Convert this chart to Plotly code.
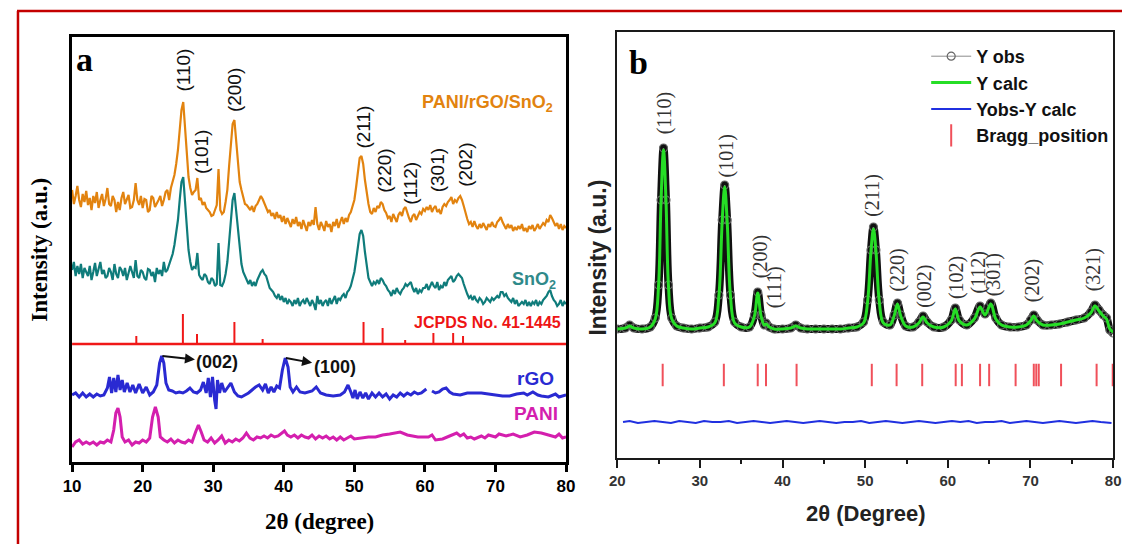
import plotly.graph_objects as go

# ---------------- Panel a data (2theta in degree, intensity in a.u.) ----------------
# diffractometer step of 0.25 degree from 10 to 80 degree
two_theta_a = [10 + 0.25 * i for i in range(281)]

pani_rgo_sno2 = [
    272,258,266,276,262,255,268,260,271,257,264,252,266,259,270,254,262,268,256,263,   # 10-14.75
    274,258,256,266,262,250,260,252,264,270,258,262,267,254,255,262,279,262,257,266,   # 15-19.75
    254,263,262,250,252,266,264,255,258,262,266,256,262,270,272,262,274,280,287,298,   # 20-24.75
    312,332,352,360,337,306,285,274,267,270,272,284,262,264,257,260,254,252,250,246,   # 25-29.75
    247,252,257,293,252,248,250,260,272,296,320,338,342,322,298,280,272,266,258,257,   # 30-34.75
    255,252,256,250,256,258,262,266,263,258,255,250,252,246,249,243,250,244,247,240,   # 35-39.75
    246,238,244,240,235,243,238,245,236,240,233,242,237,231,240,236,242,237,255,238,   # 40-44.75
    232,240,236,231,241,235,238,230,240,236,243,234,240,245,238,244,240,247,250,256,   # 45-49.75
    262,275,292,304,306,298,282,268,258,250,248,254,250,256,254,260,258,252,249,244,   # 50-54.75
    246,240,248,244,240,247,250,246,253,255,248,244,240,246,248,242,246,250,248,253,   # 55-59.75
    251,255,252,257,250,254,256,250,252,248,255,258,256,260,262,265,258,262,260,264,   # 60-64.75
    266,262,256,248,243,238,240,235,241,236,233,238,234,239,236,232,238,235,240,236,   # 65-69.75
    235,240,242,245,240,236,233,238,234,237,231,235,232,236,233,238,231,234,230,236,   # 70-74.75
    233,237,231,234,238,233,236,239,237,242,240,247,244,240,236,239,233,238,232,236,   # 75-79.75
    234]

sno2 = [
    192,200,186,196,188,198,184,194,190,186,196,182,190,199,186,194,200,188,192,184,
    186,194,190,182,198,188,184,195,192,186,194,182,188,196,190,184,202,186,184,192,
    190,184,182,193,192,186,190,180,194,188,192,186,200,190,192,198,204,208,217,228,
    242,262,280,285,262,230,212,200,192,195,194,209,187,184,182,188,186,180,178,184,
    182,176,178,219,177,176,180,188,200,220,245,262,269,250,228,210,198,190,186,182,
    178,182,176,180,176,182,186,190,192,188,186,180,174,172,170,166,164,168,162,166,
    160,164,158,162,160,156,162,158,164,156,160,162,158,164,160,156,162,158,152,166,
    158,162,156,160,162,156,164,158,162,166,158,164,162,166,168,164,170,172,176,182,
    190,202,218,228,232,226,210,196,184,180,176,180,178,182,178,184,182,178,176,172,
    170,166,172,168,174,170,168,172,174,178,176,178,180,174,170,174,168,172,170,174,
    174,178,172,176,180,176,174,180,172,176,174,180,176,182,184,186,180,182,186,188,
    186,184,178,172,168,164,166,162,166,162,160,164,162,158,160,164,162,160,164,162,
    164,166,164,170,170,166,168,164,162,160,164,158,162,156,158,160,158,162,156,160,
    156,160,158,162,156,160,158,162,164,166,170,172,166,162,160,156,158,162,156,160,
    158]

jcpds_pos = [19.1, 25.7, 27.7, 33.0, 37.0, 51.3, 54.0, 57.2, 61.2, 64.0, 65.4]
jcpds_top = [126, 148, 128, 140, 123, 140, 134, 122, 129, 129, 126]
jcpds_base = 118

two_theta_rgo = [10,10.5,11,11.5,12,12.5,13,13.5,14,14.5,15,15.3,15.6,15.9,16.2,16.5,16.8,17.1,17.4,17.8,
                 18.2,18.6,19,19.5,20,20.5,21,21.5,22,22.4,22.7,23,23.3,23.7,24.2,24.7,25.2,25.7,26.2,26.7,
                 27.2,27.7,28.2,28.6,29,29.3,29.6,29.9,30.2,30.4,30.6,30.9,31.2,31.6,32,32.5,33,33.5,34,34.5,
                 35,35.5,36,36.5,37,37.4,37.8,38.2,38.6,39,39.4,39.8,40.2,40.6,40.9,41.3,41.8,42.3,43,44,
                 44.6,45.2,46,47,48,48.6,49.1,49.5,49.8,50.1,50.4,50.8,51.2,51.6,52,52.5,53,53.5,54,54.5,
                 55,55.5,56,56.5,57,57.5,58,58.5,59,59.5,60.2,60.6,61,61.5,62,62.5,63,63.5,64,65,
                 66,67,68,69,70,71,72,73,74,74.5,75.3,76,76.5,77.5,78.5,79,80]
rgo = [67,69,65,69,65,68,65,68,66,67,74,85,69,84,70,87,72,82,70,79,
       70,77,69,78,69,75,67,70,77,99,106,99,79,72,71,69,70,69,71,74,
       70,69,72,80,69,84,65,85,62,53,82,69,79,70,74,79,70,66,65,67,
       69,72,75,77,72,78,69,75,70,76,74,92,104,95,75,70,75,70,69,71,
       75,69,67,66,67,70,77,70,64,72,63,70,64,69,63,69,65,69,65,68,
       63,67,65,69,66,69,67,70,68,69,73,None,71,69,70,73,74,70,68,67,
       69,69,69,68,67,66,66,68,69,67,70,67,66,65,68,65,67]

two_theta_pani = [10,10.5,11,11.5,12,12.5,13,13.5,14,14.5,15,15.5,15.9,16.2,16.5,16.8,17.1,17.5,18,18.5,
                  19,19.5,20,20.5,21,21.4,21.8,22.2,22.5,23,23.5,24,24.5,25,25.5,26,26.5,27,27.5,27.9,
                  28.3,28.7,29.2,29.7,30.2,30.7,31.2,31.7,32.2,32.7,33.2,33.7,34.2,34.7,35.2,35.7,36.2,36.7,37.2,37.7,
                  38.2,38.7,39.2,39.7,40.1,40.5,41,41.5,42,42.5,43,43.5,44,44.5,45,45.5,46,46.5,47,47.5,
                  48,48.5,49,49.5,50,51,52,53,54,55,56,56.5,57.5,59,60.5,61,61.5,62.5,63.5,64.5,
                  65,65.5,66,66.5,67,68,68.5,69,70,70.5,71.5,72.5,73.5,74.5,75.5,76.5,77.5,78.5,79,79.5,80]
pani = [15,20,22,18,20,18,20,17,20,19,22,20,32,49,54,45,25,20,22,17,
        20,19,22,20,24,45,55,45,25,22,20,23,19,22,20,19,22,20,30,37,
        30,22,20,24,19,22,26,19,22,20,23,21,24,29,24,22,25,24,26,24,
        27,25,26,29,31,27,25,27,24,27,25,24,27,23,26,24,26,23,25,22,
        25,22,24,26,23,24,25,25,27,28,29,30,27,25,25,27,22,23,26,29,
        26,28,24,25,23,26,24,27,25,28,26,28,25,27,30,29,27,25,28,24,25]

peak_labels_a = ["(110)", "(101)", "(200)", "(211)", "(220)", "(112)", "(301)", "(202)"]
peak_label_x_a = [25.8, 28.4, 33.1, 51.3, 54.3, 58.0, 61.9, 65.8]
peak_label_y_a = [392, 310, 372, 335, 291, 279, 292, 297]

# ---------------- Panel b data ----------------
two_theta_b = [20,21,21.5,22,23,24,24.6,25.0,25.3,25.6,25.9,26.2,26.6,27.2,28,29,30,31,31.8,32.3,
               32.7,33.0,33.3,33.7,34.2,35,36,36.6,37.0,37.4,37.8,38.0,38.4,39,40,41,41.6,42.2,43,44,
               45,46,47,48,49,49.8,50.3,50.7,51.0,51.3,51.7,52.2,53,53.5,53.9,54.3,54.9,55.8,56.5,57.0,
               57.5,58.3,59.5,60.4,60.9,61.4,62.3,63.2,63.9,64.5,65.2,65.8,66.5,67.5,68.5,69.5,70.0,70.4,70.8,71.5,
               72.5,73.5,74.5,75.5,76.5,77.3,77.8,78.3,78.8,79.2,79.6,80]
y_obs = [129,130,133,130,129,131,140,173,258,310,258,173,140,132,130,129,130,131,136,163,
         238,273,238,163,136,131,131,143,166,143,133,135,131,129,129,130,133,130,129,129,
         129,129,129,130,131,136,158,208,231,208,158,136,133,143,155,143,132,131,136,142,
         136,131,131,138,150,138,133,140,152,144,155,140,133,131,131,133,138,143,138,133,
         133,134,136,138,140,146,153,148,143,140,128,125]
y_calc = [129,130,132,130,129,131,139,172,257,308,257,172,139,132,130,129,130,131,135,162,
          237,271,237,162,135,131,131,142,165,142,133,134,131,129,129,130,132,130,129,129,
          129,129,129,130,131,135,157,207,229,207,157,135,133,142,154,142,132,131,135,141,
          135,131,131,137,149,137,133,139,151,143,154,139,133,131,131,133,137,142,137,133,
          133,134,136,138,140,145,152,147,142,139,129,126]

two_theta_res = [20.7,21.5,22.5,23.5,24.5,25.5,26.5,27.5,28.5,29.5,30.5,31.5,32.5,33.5,34.5,35.5,36.5,37.5,38.5,39.5,
                 40.5,41.5,42.5,43.5,44.5,45.5,46.5,47.5,48.5,49.5,50.5,51.5,52.5,53.5,54.5,55.5,56.5,57.5,58.5,59.5,
                 60.5,61.5,62.5,63.5,64.5,65.5,66.5,67.5,68.5,69.5,70.5,71.5,72.5,73.5,74.5,75.5,76.5,77.5,78.5,79.8]
y_res = [36,37,35,36,37,36,35,37,36,35,37,36,36,37,35,36,37,36,35,36,
         37,36,35,36,37,36,35,36,36,37,35,36,37,36,35,36,37,36,35,36,
         37,36,37,35,36,36,37,35,36,37,36,35,36,37,36,35,36,37,36,35]

bragg_pos = [25.5, 32.9, 37.0, 38.0, 41.7, 50.8, 53.8, 56.9, 60.95, 61.7, 63.9, 65.0, 68.2,
             70.4, 70.7, 71.0, 73.7, 78.0, 79.95]
bragg_level = [83] * len(bragg_pos)

peak_labels_b = ["(110)", "(101)", "(200)", "(111)", "(211)", "(220)", "(002)", "(102)", "(112)",
                 "(301)", "(202)", "(321)"]
peak_label_x_b = [25.7, 33.1, 37.3, 39.0, 50.8, 53.8, 57.1, 61.0, 63.6, 65.5, 70.2, 77.6]
peak_label_y_b = [345, 302, 201, 171, 263, 188, 172, 180, 186, 183, 177, 188]

# ---------------- Figure ----------------
# The page body has an 8 px margin, so the figure sits at (8, 8) in the window;
# layout positions below are given in window pixels and converted.
OFF = 8
W, H = 1131 - OFF, 544 - OFF
def px(x):
    return (x - OFF) / W
def py(y):
    return 1 - (y - OFF) / H

SANS = "Arial, Liberation Sans, sans-serif"
SERIF = "Times New Roman, Liberation Serif, serif"

fig = go.Figure()

# Panel a traces
fig.add_trace(go.Scatter(x=two_theta_a, y=pani_rgo_sno2, mode="lines",
                         line=dict(color="#E2830F", width=2.2), showlegend=False,
                         xaxis="x", yaxis="y"))
fig.add_trace(go.Scatter(x=two_theta_a, y=sno2, mode="lines",
                         line=dict(color="#0F7C7B", width=2.2), showlegend=False,
                         xaxis="x", yaxis="y"))
fig.add_trace(go.Scatter(x=[10, 80], y=[jcpds_base, jcpds_base], mode="lines",
                         line=dict(color="#F01818", width=2.5), showlegend=False,
                         xaxis="x", yaxis="y"))
stick_x, stick_y = [], []
for p, t in zip(jcpds_pos, jcpds_top):
    stick_x += [p, p, None]
    stick_y += [jcpds_base, t, None]
fig.add_trace(go.Scatter(x=stick_x, y=stick_y, mode="lines",
                         line=dict(color="#F01818", width=2), showlegend=False,
                         xaxis="x", yaxis="y"))
fig.add_trace(go.Scatter(x=two_theta_rgo, y=rgo, mode="lines",
                         line=dict(color="#2A2AD2", width=3), showlegend=False,
                         xaxis="x", yaxis="y"))
fig.add_trace(go.Scatter(x=two_theta_pani, y=pani, mode="lines",
                         line=dict(color="#D41FAE", width=3), showlegend=False,
                         xaxis="x", yaxis="y"))

# Panel b traces
fig.add_trace(go.Scatter(x=two_theta_b, y=y_obs, mode="lines", line_shape="spline",
                         line=dict(color="#111111", width=8), showlegend=False,
                         xaxis="x2", yaxis="y2", hoverinfo="skip"))
fig.add_trace(go.Scatter(x=two_theta_b, y=y_obs, mode="lines+markers", name="<b>Y obs</b>",
                         legendgroup="g1", line_shape="spline",
                         line=dict(color="#8c8c8c", width=1),
                         marker=dict(symbol="circle-open", size=8, color="#666666",
                                     line=dict(width=1.2)),
                         xaxis="x2", yaxis="y2"))
fig.add_trace(go.Scatter(x=two_theta_b, y=y_calc, mode="lines", name="<b>Y calc</b>",
                         legendgroup="g2", line_shape="spline",
                         line=dict(color="#26DE26", width=3),
                         xaxis="x2", yaxis="y2"))
fig.add_trace(go.Scatter(x=two_theta_res, y=y_res, mode="lines", name="<b>Yobs-Y calc</b>",
                         legendgroup="g3",
                         line=dict(color="#2030E0", width=2),
                         xaxis="x2", yaxis="y2"))
fig.add_trace(go.Scatter(x=bragg_pos, y=bragg_level, mode="markers", name="<b>Bragg_position</b>",
                         legendgroup="g4",
                         marker=dict(symbol="line-ns", size=16, color="#F0505A",
                                     line=dict(color="#F0505A", width=2)),
                         xaxis="x2", yaxis="y2"))

annotations = []
# Panel a peak labels
for t, x, y in zip(peak_labels_a, peak_label_x_a, peak_label_y_a):
    annotations.append(dict(x=x, y=y, xref="x", yref="y", text=t, textangle=-90,
                            showarrow=False, xanchor="center", yanchor="middle",
                            font=dict(family=SANS, size=19, color="#111111")))
# Panel a series labels
annotations += [
    dict(x=px(555), y=py(103), xref="paper", yref="paper", xanchor="right", yanchor="middle",
         text="<b>PANI/rGO/SnO<sub>2</sub></b>", showarrow=False,
         font=dict(family=SANS, size=18, color="#E2830F")),
    dict(x=px(558), y=py(280), xref="paper", yref="paper", xanchor="right", yanchor="middle",
         text="<b>SnO<sub>2</sub></b>", showarrow=False,
         font=dict(family=SANS, size=18, color="#2F8A8A")),
    dict(x=px(563), y=py(322), xref="paper", yref="paper", xanchor="right", yanchor="middle",
         text="<b>JCPDS No. 41-1445</b>", showarrow=False,
         font=dict(family=SANS, size=16, color="#EE1414")),
    dict(x=px(556), y=py(378), xref="paper", yref="paper", xanchor="right", yanchor="middle",
         text="<b>rGO</b>", showarrow=False,
         font=dict(family=SANS, size=19, color="#2A2AD2")),
    dict(x=px(560), y=py(413), xref="paper", yref="paper", xanchor="right", yanchor="middle",
         text="<b>PANI</b>", showarrow=False,
         font=dict(family=SANS, size=19, color="#D41FAE")),
    # reflection labels of rGO with arrows starting at the peaks
    dict(x=22.8, y=106, ax=30.6, ay=100, xref="x", yref="y", axref="x", ayref="y",
         text="<b>(002)</b>", showarrow=True, arrowside="start",
         startarrowhead=2, startarrowsize=1, arrowwidth=2, arrowcolor="#111111",
         font=dict(family=SANS, size=18, color="#111111")),
    dict(x=40.3, y=104, ax=47.2, ay=95, xref="x", yref="y", axref="x", ayref="y",
         text="<b>(100)</b>", showarrow=True, arrowside="start",
         startarrowhead=2, startarrowsize=1, arrowwidth=2, arrowcolor="#111111",
         font=dict(family=SANS, size=18, color="#111111")),
    # panel letters
    dict(x=px(66), y=py(60), xref="paper", yref="paper", xanchor="left", yanchor="middle",
         text="<b>a</b>", showarrow=False, font=dict(family=SERIF, size=34, color="#000000")),
    dict(x=px(628), y=py(62), xref="paper", yref="paper", xanchor="left", yanchor="middle",
         text="<b>b</b>", showarrow=False, font=dict(family=SERIF, size=34, color="#000000")),
    # axis titles
    dict(x=px(30), y=py(250), xref="paper", yref="paper", xanchor="center", yanchor="middle",
         text="<b>Intensity (a.u.)</b>", textangle=-90, showarrow=False,
         font=dict(family=SERIF, size=23, color="#000000")),
    dict(x=px(315), y=py(521), xref="paper", yref="paper", xanchor="center", yanchor="middle",
         text="<b>2θ (degree)</b>", showarrow=False,
         font=dict(family=SERIF, size=23, color="#000000")),
    dict(x=px(598), y=py(258), xref="paper", yref="paper", xanchor="center", yanchor="middle",
         text="<b>Intensity (a.u.)</b>", textangle=-90, showarrow=False,
         font=dict(family=SANS, size=23, color="#222222")),
    dict(x=px(871), y=py(513), xref="paper", yref="paper", xanchor="center", yanchor="middle",
         text="<b>2θ (Degree)</b>", showarrow=False,
         font=dict(family=SANS, size=22, color="#222222")),
]
# Panel b peak labels
for t, x, y in zip(peak_labels_b, peak_label_x_b, peak_label_y_b):
    annotations.append(dict(x=x, y=y, xref="x2", yref="y2", text=t, textangle=-90,
                            showarrow=False, xanchor="center", yanchor="middle",
                            font=dict(family=SERIF, size=20, color="#333333")))

shapes = [
    dict(type="line", xref="paper", yref="paper", x0=px(8), x1=1, y0=py(11), y1=py(11),
         line=dict(color="#C40000", width=2.5)),
    dict(type="line", xref="paper", yref="paper", x0=px(9), x1=px(9), y0=py(11), y1=0,
         line=dict(color="#C40000", width=2.5)),
]

fig.update_layout(
    width=W, height=H,
    margin=dict(l=0, r=0, t=0, b=0),
    paper_bgcolor="white", plot_bgcolor="white",
    xaxis=dict(domain=[px(64), px(566)], range=[10, 80], anchor="y",
               showline=True, linewidth=2.5, linecolor="#000000", mirror=True,
               ticks="outside", ticklen=7, tickwidth=2.5, tickcolor="#000000",
               tickvals=[10, 20, 30, 40, 50, 60, 70, 80],
               tickfont=dict(family=SANS, size=17, color="#000000", weight="bold"),
               showgrid=False, zeroline=False),
    yaxis=dict(domain=[py(462), py(37)], range=[0, 425], anchor="x",
               showline=True, linewidth=2.5, linecolor="#000000", mirror=True,
               ticks="", showticklabels=False, showgrid=False, zeroline=False),
    xaxis2=dict(domain=[px(618), px(1122)], range=[20, 80], anchor="y2",
                showline=True, linewidth=2.2, linecolor="#1a1a1a", mirror=True,
                ticks="outside", ticklen=8, tickwidth=2, tickcolor="#1a1a1a",
                tickvals=[20, 30, 40, 50, 60, 70, 80],
                minor=dict(ticks="outside", ticklen=4, tickwidth=2, tickcolor="#1a1a1a",
                           tickvals=[25, 35, 45, 55, 65, 75]),
                tickfont=dict(family=SANS, size=15, color="#333333", weight="bold"),
                showgrid=False, zeroline=False),
    yaxis2=dict(domain=[py(458), py(32)], range=[0, 426], anchor="x2",
                showline=True, linewidth=2.2, linecolor="#1a1a1a", mirror=True,
                ticks="", showticklabels=False, showgrid=False, zeroline=False),
    legend=dict(x=px(932), y=py(38), xanchor="left", yanchor="top",
                bgcolor="rgba(0,0,0,0)", itemwidth=40, tracegroupgap=0,
                font=dict(family=SANS, size=18, color="#111111")),
    annotations=annotations,
    shapes=shapes,
)

fig.write_html("out.html")
